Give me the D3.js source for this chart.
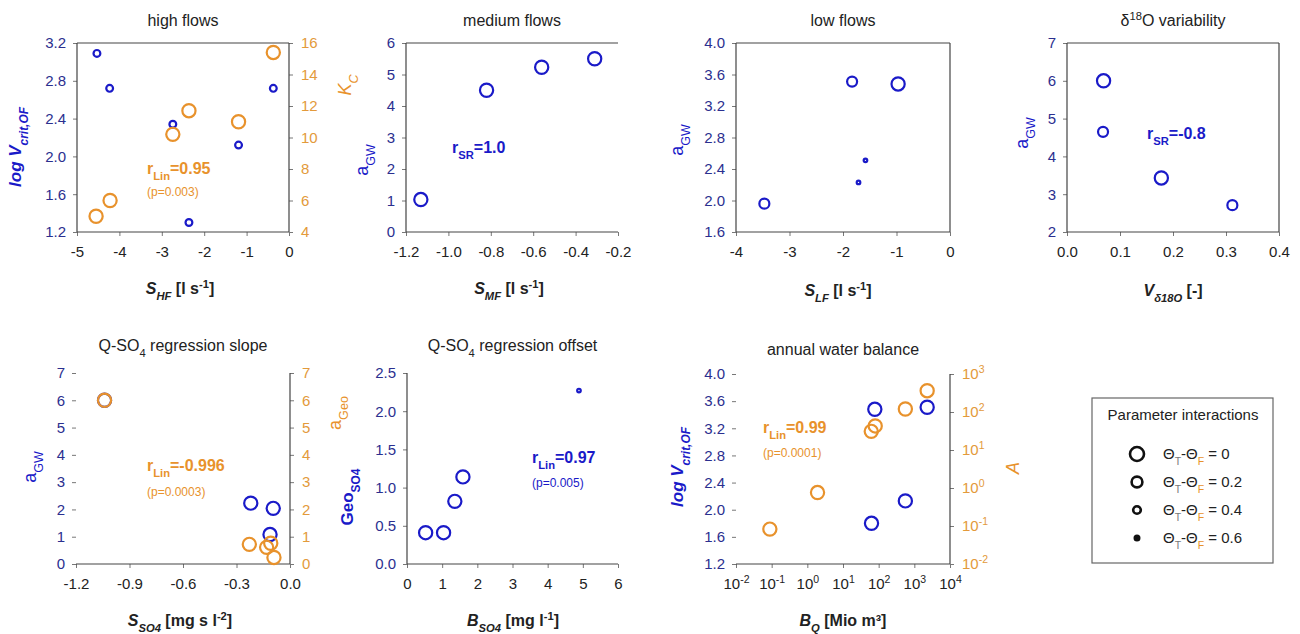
<html>
<head>
<script src="https://d3js.org/d3.v7.min.js"></script>
<style>
    body { margin: 0; background-color: #fff; }
    text { font-family: 'Liberation Sans', Arial, sans-serif; }
</style>
</head>
<body>
<svg width="1300" height="634"></svg>
<script>
var BLUE = "#1a1ac8", ORANGE = "#e8922c", BLUE_TXT = "#2b2f8f", ORANGE_TXT = "#e39a3b";

// high flows
var hfBlueX = [-4.53, -4.23, -2.74, -2.36, -1.19, -0.37];
var hfBlueY = [3.09, 2.72, 2.34, 1.30, 2.12, 2.72];
var hfBlueTheta = [0.4, 0.4, 0.4, 0.4, 0.4, 0.4];
var hfOrangeX = [-4.55, -4.22, -2.74, -2.36, -1.19, -0.37];
var hfOrangeY = [5.0, 6.0, 10.2, 11.7, 11.0, 15.4];
var hfOrangeTheta = [0, 0, 0, 0, 0, 0];
// medium flows
var mfX = [-1.13, -0.82, -0.56, -0.31];
var mfY = [1.03, 4.50, 5.23, 5.50];
var mfTheta = [0, 0, 0, 0];
// low flows
var lfX = [-3.47, -1.83, -0.97, -1.58, -1.71];
var lfY = [1.96, 3.51, 3.48, 2.51, 2.23];
var lfTheta = [0.2, 0.2, 0, 0.6, 0.6];
// d18O variability
var oxX = [0.069, 0.068, 0.178, 0.312];
var oxY = [6.0, 4.65, 3.43, 2.71];
var oxTheta = [0, 0.2, 0, 0.2];
// Q-SO4 regression slope
var slBlueX = [-1.04, -0.22, -0.094, -0.112];
var slBlueY = [6.0, 2.23, 2.04, 1.08];
var slBlueTheta = [0, 0, 0, 0];
var slOrangeX = [-1.04, -0.228, -0.131, -0.108, -0.09];
var slOrangeY = [6.0, 0.72, 0.61, 0.76, 0.24];
var slOrangeTheta = [0, 0, 0, 0, 0];
// Q-SO4 regression offset
var ofX = [0.53, 1.04, 1.36, 1.59, 4.89];
var ofY = [0.41, 0.41, 0.82, 1.14, 2.27];
var ofTheta = [0, 0, 0, 0, 0.6];
// annual water balance
var wbBlueX = [78, 2290, 560, 63];
var wbBlueY = [3.48, 3.51, 2.13, 1.80];
var wbBlueTheta = [0, 0, 0, 0];
var wbOrangeX = [0.089, 1.93, 62, 80, 560, 2290];
var wbOrangeY = [0.083, 0.76, 31, 43, 120, 363];
var wbOrangeTheta = [0, 0, 0, 0, 0, 0];
// legend
var legendTheta = [0, 0.2, 0.4, 0.6];

var svg = d3.select("svg");
var rScale = d3.scaleLinear().domain([0, 0.6]).range([6.6, 1.8]);

function fixed(n) { return function(d) { return d.toFixed(n); }; }

// append text made of parts: {t, sub, sup, b, i, fill}
function rich(x, y, parts, opt) {
    opt = opt || {};
    var t = svg.append("text")
        .attr("text-anchor", opt.anchor || "middle")
        .attr("font-size", opt.size || 16)
        .attr("fill", opt.fill || "#222")
        .attr("font-weight", opt.bold ? "bold" : "normal")
        .attr("font-style", opt.italic ? "italic" : "normal");
    if (opt.rotate) {
        t.attr("transform", "translate(" + x + "," + y + ") rotate(-90)").attr("dy", "0.35em");
    } else {
        t.attr("x", x).attr("y", y).attr("dy", "0.35em");
    }
    parts.forEach(function(p) {
        if (typeof p === "string") p = {t: p};
        var s = t.append("tspan").text(p.t);
        if (p.sub) s.attr("baseline-shift", "sub").attr("font-size", "70%");
        if (p.sup) s.attr("baseline-shift", "super").attr("font-size", "70%");
        if (p.b !== undefined) s.attr("font-weight", p.b ? "bold" : "normal");
        if (p.i !== undefined) s.attr("font-style", p.i ? "italic" : "normal");
        if (p.fill) s.attr("fill", p.fill);
    });
    return t;
}

function powTen(sel) {
    sel.selectAll(".tick text").each(function(d) {
        var t = d3.select(this).text("");
        t.append("tspan").text("10");
        t.append("tspan").attr("baseline-shift", "super").attr("font-size", "70%")
            .text(String(Math.round(Math.log10(d))).replace("\u2212", "-"));
    });
}

function styleAxis(a, color) {
    a.select(".domain").remove();
    a.selectAll(".tick line").attr("stroke", "#777");
    a.selectAll(".tick text").attr("fill", color).style("font-size", "15px")
        .style("font-family", "'Liberation Sans', Arial, sans-serif");
}

function panel(c) {
    var g = svg.append("g");
    var x = (c.xLog ? d3.scaleLog() : d3.scaleLinear()).domain(c.xDomain).range([c.x0, c.x1]);
    var y = d3.scaleLinear().domain(c.yDomain).range([c.y1, c.y0]);
    var y2 = null;
    if (c.y2Domain) y2 = (c.y2Log ? d3.scaleLog() : d3.scaleLinear()).domain(c.y2Domain).range([c.y1, c.y0]);

    var xa = g.append("g").attr("transform", "translate(0," + c.y1 + ")")
        .call(d3.axisBottom(x).tickValues(c.xTicks).tickSize(4).tickPadding(10)
            .tickFormat(c.xLog ? null : fixed(c.xDec)));
    styleAxis(xa, "#222");
    if (c.xLog) powTen(xa);

    var ya = g.append("g").attr("transform", "translate(" + c.x0 + ",0)")
        .call(d3.axisLeft(y).tickValues(c.yTicks).tickSize(4).tickPadding(7).tickFormat(fixed(c.yDec)));
    styleAxis(ya, BLUE_TXT);

    if (y2) {
        var ra = g.append("g").attr("transform", "translate(" + c.x1 + ",0)")
            .call(d3.axisRight(y2).tickValues(c.y2Ticks).tickSize(4).tickPadding(8)
                .tickFormat(c.y2Log ? null : fixed(0)));
        styleAxis(ra, ORANGE_TXT);
        if (c.y2Log) powTen(ra);
    }

    var lines = {
        top: [c.x0, c.y0, c.x1, c.y0], bottom: [c.x0, c.y1, c.x1, c.y1],
        left: [c.x0, c.y0, c.x0, c.y1], right: [c.x1, c.y0, c.x1, c.y1]
    };
    c.frame.forEach(function(k) {
        var l = lines[k];
        g.append("line").attr("x1", l[0]).attr("y1", l[1]).attr("x2", l[2]).attr("y2", l[3])
            .attr("stroke", "#444").attr("stroke-width", 1.2);
    });

    c.series.forEach(function(s) {
        var sc = s.right ? y2 : y;
        g.append("g").selectAll("circle")
            .data(d3.zip(s.x, s.y, s.theta))
            .join("circle")
            .attr("cx", function(d) { return x(d[0]); })
            .attr("cy", function(d) { return sc(d[1]); })
            .attr("r", function(d) { return rScale(d[2]); })
            .attr("fill", "none")
            .attr("stroke", s.color)
            .attr("stroke-width", 2.2);
    });

    rich((c.x0 + c.x1) / 2, c.titleY, c.title, {size: 16});
}

var S = function(t) { return {t: t, i: true}; };
var sub = function(t) { return {t: t, sub: true}; };

// high flows
panel({x0: 77, x1: 289, y0: 43, y1: 232, titleY: 20, title: ["high flows"],
    xDomain: [-5, 0], xTicks: [-5, -4, -3, -2, -1, 0], xDec: 0,
    yDomain: [1.2, 3.2], yTicks: [1.2, 1.6, 2.0, 2.4, 2.8, 3.2], yDec: 1,
    y2Domain: [4, 16], y2Ticks: [4, 6, 8, 10, 12, 14, 16],
    frame: ["top", "left", "bottom", "right"],
    series: [
        {x: hfBlueX, y: hfBlueY, theta: hfBlueTheta, color: BLUE},
        {x: hfOrangeX, y: hfOrangeY, theta: hfOrangeTheta, color: ORANGE, right: true}
    ]});
// medium flows
panel({x0: 406, x1: 618, y0: 43, y1: 232, titleY: 20, title: ["medium flows"],
    xDomain: [-1.2, -0.2], xTicks: [-1.2, -1.0, -0.8, -0.6, -0.4, -0.2], xDec: 1,
    yDomain: [0, 6], yTicks: [0, 1, 2, 3, 4, 5, 6], yDec: 0,
    frame: ["top", "left", "bottom"],
    series: [{x: mfX, y: mfY, theta: mfTheta, color: BLUE}]});
// low flows
panel({x0: 736, x1: 950, y0: 43, y1: 232, titleY: 20, title: ["low flows"],
    xDomain: [-4, 0], xTicks: [-4, -3, -2, -1, 0], xDec: 0,
    yDomain: [1.6, 4.0], yTicks: [1.6, 2.0, 2.4, 2.8, 3.2, 3.6, 4.0], yDec: 1,
    frame: ["top", "left", "bottom", "right"],
    series: [{x: lfX, y: lfY, theta: lfTheta, color: BLUE}]});
// d18O variability
panel({x0: 1067, x1: 1279, y0: 43, y1: 232, titleY: 20,
    title: ["\u03b4", {t: "18", sup: true}, "O variability"],
    xDomain: [0, 0.4], xTicks: [0, 0.1, 0.2, 0.3, 0.4], xDec: 1,
    yDomain: [2, 7], yTicks: [2, 3, 4, 5, 6, 7], yDec: 0,
    frame: ["top", "left", "bottom", "right"],
    series: [{x: oxX, y: oxY, theta: oxTheta, color: BLUE}]});
// Q-SO4 regression slope
panel({x0: 76, x1: 290, y0: 373, y1: 564, titleY: 345,
    title: ["Q-SO", sub("4"), " regression slope"],
    xDomain: [-1.2, 0], xTicks: [-1.2, -0.9, -0.6, -0.3, 0], xDec: 1,
    yDomain: [0, 7], yTicks: [0, 1, 2, 3, 4, 5, 6, 7], yDec: 0,
    y2Domain: [0, 7], y2Ticks: [0, 1, 2, 3, 4, 5, 6, 7],
    frame: ["bottom", "right"],
    series: [
        {x: slBlueX, y: slBlueY, theta: slBlueTheta, color: BLUE},
        {x: slOrangeX, y: slOrangeY, theta: slOrangeTheta, color: ORANGE, right: true}
    ]});
// Q-SO4 regression offset
panel({x0: 407, x1: 618, y0: 373, y1: 564, titleY: 345,
    title: ["Q-SO", sub("4"), " regression offset"],
    xDomain: [0, 6], xTicks: [0, 1, 2, 3, 4, 5, 6], xDec: 0,
    yDomain: [0, 2.5], yTicks: [0, 0.5, 1.0, 1.5, 2.0, 2.5], yDec: 1,
    frame: ["left", "bottom"],
    series: [{x: ofX, y: ofY, theta: ofTheta, color: BLUE}]});
// annual water balance
panel({x0: 736, x1: 950, y0: 374, y1: 564, titleY: 349, title: ["annual water balance"],
    xLog: true, xDomain: [0.01, 10000], xTicks: [0.01, 0.1, 1, 10, 100, 1000, 10000],
    yDomain: [1.2, 4.0], yTicks: [1.2, 1.6, 2.0, 2.4, 2.8, 3.2, 3.6, 4.0], yDec: 1,
    y2Log: true, y2Domain: [0.01, 1000], y2Ticks: [0.01, 0.1, 1, 10, 100, 1000],
    frame: ["bottom", "right"],
    series: [
        {x: wbBlueX, y: wbBlueY, theta: wbBlueTheta, color: BLUE},
        {x: wbOrangeX, y: wbOrangeY, theta: wbOrangeTheta, color: ORANGE, right: true}
    ]});

// axis titles
var logV = ["log V", sub("crit,OF")];
var aGW = ["a", sub("GW")];
rich(15, 147, logV, {rotate: true, bold: true, italic: true, fill: BLUE, size: 17});
rich(345, 85, ["K", sub("C")], {rotate: true, italic: true, fill: ORANGE, size: 18});
rich(362, 160, aGW, {rotate: true, fill: BLUE, size: 18});
rich(677, 140, aGW, {rotate: true, fill: BLUE, size: 18});
rich(1022, 133, aGW, {rotate: true, fill: BLUE, size: 18});
rich(30, 467, aGW, {rotate: true, fill: BLUE, size: 18});
rich(335, 413, ["a", sub("Geo")], {rotate: true, fill: ORANGE, size: 18});
rich(347, 497, ["Geo", sub("SO4")], {rotate: true, bold: true, fill: BLUE, size: 17});
rich(677, 467, logV, {rotate: true, bold: true, italic: true, fill: BLUE, size: 17});
rich(1013, 468, ["A"], {rotate: true, italic: true, fill: ORANGE, size: 18});

rich(180, 288, [S("S"), {t: "HF", sub: true, i: true}, " [l s", {t: "-1", sup: true}, "]"], {bold: true});
rich(509, 288, [S("S"), {t: "MF", sub: true, i: true}, " [l s", {t: "-1", sup: true}, "]"], {bold: true});
rich(838, 290, [S("S"), {t: "LF", sub: true, i: true}, " [l s", {t: "-1", sup: true}, "]"], {bold: true});
rich(1173, 290, [S("V"), {t: "\u03b418O", sub: true, i: true}, " [-]"], {bold: true});
rich(180, 620, [S("S"), {t: "SO4", sub: true, i: true}, " [mg s l", {t: "-2", sup: true}, "]"], {bold: true});
rich(513, 620, [S("B"), {t: "SO4", sub: true, i: true}, " [mg l", {t: "-1", sup: true}, "]"], {bold: true});
rich(843, 620, [S("B"), {t: "Q", sub: true, i: true}, " [Mio m\u00b3]"], {bold: true});

// correlation notes
rich(147, 168, ["r", sub("Lin"), "=0.95"], {anchor: "start", bold: true, fill: ORANGE});
rich(147, 192, ["(p=0.003)"], {anchor: "start", size: 12, fill: ORANGE});
rich(452, 147, ["r", sub("SR"), "=1.0"], {anchor: "start", bold: true, fill: BLUE});
rich(1147, 133, ["r", sub("SR"), "=-0.8"], {anchor: "start", bold: true, fill: BLUE});
rich(147, 465, ["r", sub("Lin"), "=-0.996"], {anchor: "start", bold: true, fill: ORANGE});
rich(147, 492, ["(p=0.0003)"], {anchor: "start", size: 12, fill: ORANGE});
rich(532, 457, ["r", sub("Lin"), "=0.97"], {anchor: "start", bold: true, fill: BLUE});
rich(532, 483, ["(p=0.005)"], {anchor: "start", size: 12, fill: BLUE});
rich(763, 427, ["r", sub("Lin"), "=0.99"], {anchor: "start", bold: true, fill: ORANGE});
rich(763, 453, ["(p=0.0001)"], {anchor: "start", size: 12, fill: ORANGE});

// legend
svg.append("rect").attr("x", 1092).attr("y", 398).attr("width", 181).attr("height", 165)
    .attr("fill", "#fff").attr("stroke", "#666").attr("stroke-width", 1.2);
rich(1183, 415, ["Parameter interactions"], {size: 15});
var ly = d3.scalePoint().domain(legendTheta).range([454, 538]);
svg.append("g").selectAll("circle").data(legendTheta).join("circle")
    .attr("cx", 1137).attr("cy", function(d) { return ly(d); })
    .attr("r", function(d) { return rScale(d) + 0.4; })
    .attr("fill", function(d) { return d >= 0.6 ? "#111" : "none"; })
    .attr("stroke", "#111").attr("stroke-width", 2.6);
legendTheta.forEach(function(d) {
    rich(1163, ly(d), ["\u0398", {t: "T", sub: true, fill: "#777"}, "-\u0398", {t: "F", sub: true, fill: ORANGE},
        " = " + (d === 0 ? "0" : d.toFixed(1))], {anchor: "start", size: 15});
});
</script>
</body>
</html>
